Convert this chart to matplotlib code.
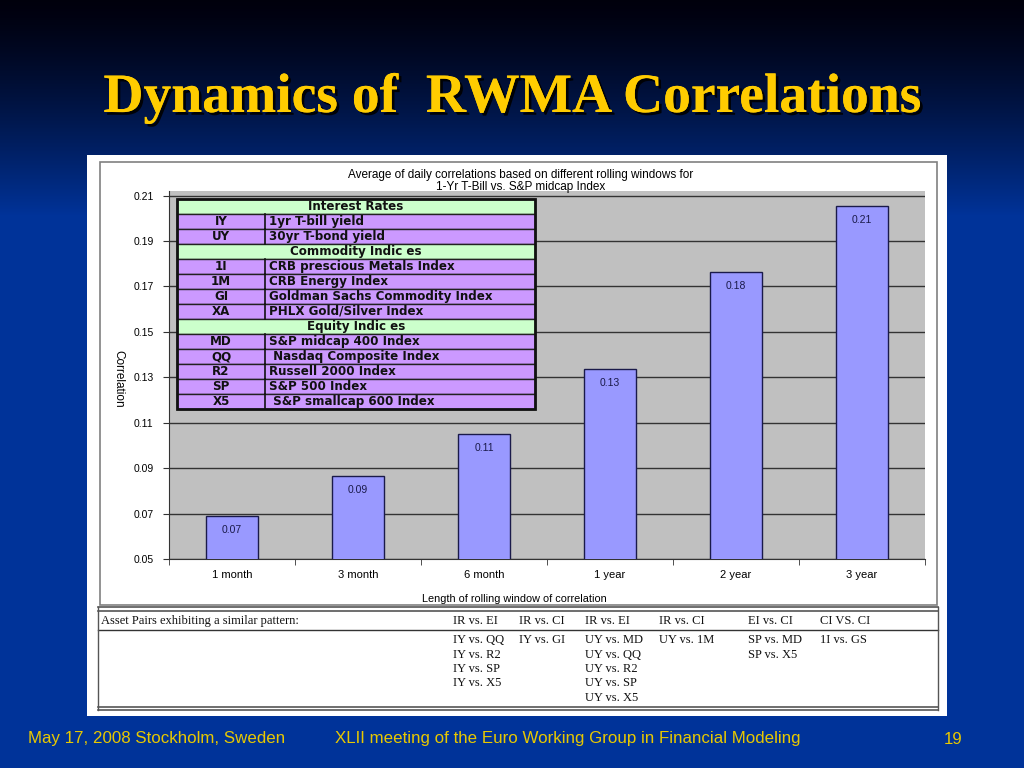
import numpy as np
import matplotlib
matplotlib.use("Agg")
import matplotlib.pyplot as plt
from matplotlib.patches import Rectangle
import matplotlib.patheffects as pe

# data
windows = ["1 month", "3 month", "6 month", "1 year", "2 year", "3 year"]
avg_corr = [0.069, 0.0866, 0.105, 0.1337, 0.1764, 0.2055]
bar_labels = ["0.07", "0.09", "0.11", "0.13", "0.18", "0.21"]
y_ticks = [0.05, 0.07, 0.09, 0.11, 0.13, 0.15, 0.17, 0.19, 0.21]

legend_rows = [
    ("Interest Rates", None),
    ("IY", "1yr T-bill yield"),
    ("UY", "30yr T-bond yield"),
    ("Commodity Indic es", None),
    ("1I", "CRB prescious Metals Index"),
    ("1M", "CRB Energy Index"),
    ("GI", "Goldman Sachs Commodity Index"),
    ("XA", "PHLX Gold/Silver Index"),
    ("Equity Indic es", None),
    ("MD", "S&P midcap 400 Index"),
    ("QQ", " Nasdaq Composite Index"),
    ("R2", "Russell 2000 Index"),
    ("SP", "S&P 500 Index"),
    ("X5", " S&P smallcap 600 Index"),
]

pair_headers = ["IR vs. EI", "IR vs. CI", "IR vs. EI", "IR vs. CI", "EI vs. CI", "CI VS. CI"]
pair_lists = [
    ["IY vs. QQ", "IY vs. R2", "IY vs. SP", "IY vs. X5"],
    ["IY vs. GI"],
    ["UY vs. MD", "UY vs. QQ", "UY vs. R2", "UY vs. SP", "UY vs. X5"],
    ["UY vs. 1M"],
    ["SP vs. MD", "SP vs. X5"],
    ["1I vs. GS"],
]

W, H = 1024, 768
fig = plt.figure(figsize=(W / 100, H / 100), dpi=100)


def fbox(x0, y0, x1, y1):
    return [x0 / W, 1 - y1 / H, (x1 - x0) / W, (y1 - y0) / H]


# slide background
bg = fig.add_axes([0, 0, 1, 1], zorder=0)
grad = np.linspace(0, 1, H)
t = np.clip(grad / 0.28, 0, 1) ** 1.3
top = np.array([0.0, 0.0, 0.05])
bot = np.array([0.0, 0.2, 0.6])
img = top[None, :] * (1 - t[:, None]) + bot[None, :] * t[:, None]
img = np.repeat(img[:, None, :], 8, axis=1)
bg.imshow(img, aspect="auto", extent=(0, W, H, 0))
bg.set_xlim(0, W)
bg.set_ylim(H, 0)
bg.axis("off")

# white panel and inner borders
bg.add_patch(Rectangle((87, 155), 860, 561, facecolor="white", edgecolor="none"))
bg.add_patch(Rectangle((100, 162), 837, 443, facecolor="none", edgecolor="#808080", lw=1.2))
bg.plot([98, 938], [607, 607], color="#555555", lw=1.2)
bg.plot([98, 938], [611, 611], color="#555555", lw=1.2)
bg.plot([98, 938], [630, 630], color="#333333", lw=1.0)
bg.plot([98, 938], [707, 707], color="#555555", lw=1.2)
bg.plot([98, 938], [710, 710], color="#555555", lw=1.2)
bg.plot([98, 98], [607, 710], color="#555555", lw=1.0)
bg.plot([938, 938], [607, 710], color="#555555", lw=1.0)

# slide title
bg.text(512, 98, "Dynamics of  RWMA Correlations", ha="center", va="center",
        fontsize=40, fontweight="bold", family="Liberation Serif", color="#FFCC00",
        path_effects=[pe.withSimplePatchShadow(offset=(2, -2), shadow_rgbFace="black", alpha=0.9),
                      pe.Normal()])

# footer
foot_kw = dict(fontsize=12.2, family="Liberation Sans", color="#E8C800", va="center")
bg.text(28, 739, "May 17, 2008 Stockholm, Sweden", ha="left", **foot_kw)
bg.text(568, 739, "XLII meeting of the Euro Working Group in Financial Modeling", ha="center", **foot_kw)
bg.text(953, 739, "19", ha="center", **foot_kw)

# chart
ax = fig.add_axes(fbox(169, 191, 925, 559), zorder=1)
ax.set_facecolor("#C0C0C0")
x = np.arange(len(windows))
ax.bar(x, avg_corr, width=0.41, bottom=0, color="#9999FF", edgecolor="#1a1a4a",
       linewidth=1.0, zorder=3)
for xi, v, lab in zip(x, avg_corr, bar_labels):
    ax.annotate(lab, (xi, v), xytext=(0, -10), textcoords="offset points",
                ha="center", va="center", fontsize=7.5, family="Liberation Sans",
                color="#1a1a4a", zorder=4)
ax.set_ylim(0.05, 0.212)
ax.set_xlim(-0.5, len(windows) - 0.5)
ax.set_yticks(y_ticks)
ax.set_yticklabels([f"{v:.2f}" for v in y_ticks], fontsize=7.5, family="Liberation Sans")
ax.yaxis.grid(True, color="#333333", lw=1.0, zorder=1)
ax.set_axisbelow(True)
ax.set_xticks(x)
ax.set_xticklabels(windows, fontsize=8, family="Liberation Sans")
ax.set_xticks(np.arange(-0.5, len(windows)), minor=True)
ax.tick_params(axis="x", which="major", length=0, pad=8)
ax.tick_params(axis="x", which="minor", length=4, direction="out", color="#333333")
ax.tick_params(axis="y", length=4, direction="out", color="#333333", pad=7)
for s in ("top", "right"):
    ax.spines[s].set_visible(False)
ax.spines["left"].set_color("#333333")
ax.spines["bottom"].set_color("#333333")
ax.set_xlabel("Length of rolling window of correlation", fontsize=7.8,
              family="Liberation Sans", labelpad=8)
ax.xaxis.set_label_coords((514 - 169) / 756, -0.095)
ax.set_ylabel("Correlation", fontsize=8.5, family="Liberation Sans", rotation=-90,
              va="center")
ax.yaxis.set_label_coords((118 - 169) / 756, 0.49)

# overlay for chart title, legend table and pair table
ov = fig.add_axes([0, 0, 1, 1], zorder=5)
ov.set_xlim(0, W)
ov.set_ylim(H, 0)
ov.axis("off")

ov.text(521, 175, "Average of daily correlations based on different rolling windows for",
        ha="center", va="center", fontsize=8.5, family="Liberation Sans")
ov.text(521, 187, "1-Yr T-Bill vs. S&P midcap Index",
        ha="center", va="center", fontsize=8.5, family="Liberation Sans")

tx0, tx1, tmid, ty0, rh = 177, 535, 265, 199, 15.0
tab_kw = dict(va="center", fontsize=8.6, fontweight="bold", family="DejaVu Sans", color="#111111")
for i, (code, name) in enumerate(legend_rows):
    y0 = ty0 + i * rh
    if name is None:
        ov.add_patch(Rectangle((tx0, y0), tx1 - tx0, rh, facecolor="#CCFFCC",
                               edgecolor="#222222", lw=1.0))
        ov.text((tx0 + tx1) / 2, y0 + rh / 2, code, ha="center", **tab_kw)
    else:
        ov.add_patch(Rectangle((tx0, y0), tx1 - tx0, rh, facecolor="#CC99FF",
                               edgecolor="#222222", lw=1.0))
        ov.plot([tmid, tmid], [y0, y0 + rh], color="#111111", lw=1.2)
        ov.text((tx0 + tmid) / 2, y0 + rh / 2, code, ha="center", **tab_kw)
        ov.text(tmid + 4, y0 + rh / 2, name, ha="left", **tab_kw)
ov.add_patch(Rectangle((tx0, ty0), tx1 - tx0, rh * len(legend_rows), facecolor="none",
                       edgecolor="#111111", lw=2.0))

# asset pair table
serif_kw = dict(fontsize=9, family="Liberation Serif", color="#111111", va="center")
ov.text(101, 621, "Asset Pairs exhibiting a similar pattern:", ha="left", **serif_kw)
col_x = [453, 519, 585, 659, 748, 820]
for cx, head, items in zip(col_x, pair_headers, pair_lists):
    ov.text(cx, 621, head, ha="left", **serif_kw)
    for j, item in enumerate(items):
        ov.text(cx, 640 + j * 14.5, item, ha="left", **serif_kw)

fig.savefig("out.png", dpi=100)
